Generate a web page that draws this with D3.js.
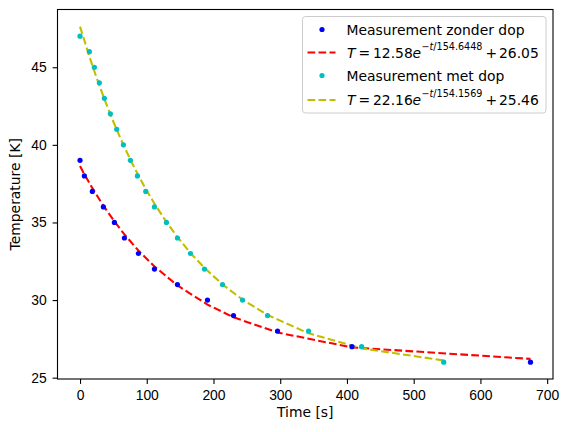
<!DOCTYPE html>
<html>
<head>
<meta charset="utf-8">
<script src="https://cdn.jsdelivr.net/npm/d3@7"></script>
<style>
  body { margin: 0; background: #fff; }
  svg { font-family: "DejaVu Sans", sans-serif; }
  .tick text { font-size: 13.9px; fill: #000; }
  .tick line { stroke: #000; stroke-width: 1.1; }
  .domain { display: none; }
</style>
</head>
<body>
<svg id="chart" width="569" height="432"></svg>
<script>
// Meetwaarden zonder dop
const timeZonder = [0, 6.5, 18.5, 35, 51.5, 66.5, 87.5, 111.5, 146, 191, 230, 296, 407.5, 675];
const tempZonder = [39, 38, 37, 36, 35, 34, 33, 32, 31, 30, 29, 28, 27, 26];
const fitZonder = [38.63, 38.11, 37.21, 36.08, 35.07, 34.23, 33.19, 32.17, 30.94, 29.71, 28.89, 27.91, 26.95, 26.21];

// Meetwaarden met dop
const timeMet = [0, 14, 21.5, 29, 36.5, 45.5, 55, 65, 75.5, 86, 98.5, 111.5, 129.5, 146, 165.5, 186.5, 213.5, 243.5, 281, 342.5, 422, 545];
const tempMet = [47, 46, 45, 44, 43, 42, 41, 40, 39, 38, 37, 36, 35, 34, 33, 32, 31, 30, 29, 28, 27, 26];
const fitMet = [47.62, 45.70, 44.74, 43.82, 42.95, 41.96, 40.97, 40.00, 39.04, 38.15, 37.16, 36.21, 35.03, 34.06, 33.03, 32.07, 31.01, 30.03, 29.04, 27.86, 26.89, 26.11];

const xTicks = [0, 100, 200, 300, 400, 500, 600, 700];
const yTicks = [25, 30, 35, 40, 45];

const PLOT = { left: 57.5, right: 553, top: 9.5, bottom: 379 };

const svg = d3.select("#chart");

const x = d3.scaleLinear().domain([-33.75, 708.75]).range([PLOT.left, PLOT.right]);
const y = d3.scaleLinear().domain([24.915, 48.72]).range([PLOT.bottom, PLOT.top]);

// Assen
svg.append("g")
    .attr("transform", `translate(0, ${PLOT.bottom})`)
    .call(d3.axisBottom(x).tickValues(xTicks).tickSize(4.9).tickPadding(6))
    .selectAll("text").attr("dy", "0.71em");

svg.append("g")
    .attr("transform", `translate(${PLOT.left}, 0)`)
    .call(d3.axisLeft(y).tickValues(yTicks).tickSize(4.9).tickPadding(5.8));

svg.append("text")
    .attr("x", (PLOT.left + PLOT.right) / 2)
    .attr("y", 417)
    .attr("text-anchor", "middle")
    .style("font-size", "13.9px")
    .text("Time [s]");

svg.append("text")
    .attr("transform", `translate(19.5, ${(PLOT.top + PLOT.bottom) / 2}) rotate(-90)`)
    .attr("text-anchor", "middle")
    .style("font-size", "13.9px")
    .text("Temperature [K]");

// Fit-lijnen
const line = (xs, ys) => d3.line()
    .x((d, i) => x(xs[i]))
    .y(d => y(d))(ys);

svg.append("path")
    .attr("d", line(timeZonder, fitZonder))
    .attr("fill", "none")
    .attr("stroke", "#ff0000")
    .attr("stroke-width", 2.08)
    .attr("stroke-dasharray", "7.7,3.3");

svg.append("path")
    .attr("d", line(timeMet, fitMet))
    .attr("fill", "none")
    .attr("stroke", "#bfbf00")
    .attr("stroke-width", 2.08)
    .attr("stroke-dasharray", "7.7,3.3");

// Meetpunten
svg.append("g").selectAll("circle")
    .data(tempZonder)
    .join("circle")
    .attr("cx", (d, i) => x(timeZonder[i]))
    .attr("cy", d => y(d))
    .attr("r", 2.6)
    .attr("fill", "#0000ff");

svg.append("g").selectAll("circle")
    .data(tempMet)
    .join("circle")
    .attr("cx", (d, i) => x(timeMet[i]))
    .attr("cy", d => y(d))
    .attr("r", 2.6)
    .attr("fill", "#00bfbf");

// Kader
svg.append("rect")
    .attr("x", PLOT.left)
    .attr("y", PLOT.top)
    .attr("width", PLOT.right - PLOT.left)
    .attr("height", PLOT.bottom - PLOT.top)
    .attr("fill", "none")
    .attr("stroke", "#000")
    .attr("stroke-width", 1.1);

// Legenda
const legend = svg.append("g");
legend.append("rect")
    .attr("x", 302.5).attr("y", 16.5)
    .attr("width", 243.5).attr("height", 96.5)
    .attr("rx", 3)
    .attr("fill", "rgba(255,255,255,0.8)")
    .attr("stroke", "#cccccc")
    .attr("stroke-width", 1);

const legendItems = [
    { type: "dot", color: "#0000ff", label: "Measurement zonder dop", y: 29.5 },
    { type: "line", color: "#ff0000", a: "12.58", tau: "154.6448", c: "26.05", y: 52.5 },
    { type: "dot", color: "#00bfbf", label: "Measurement met dop", y: 75.5 },
    { type: "line", color: "#bfbf00", a: "22.16", tau: "154.1569", c: "25.46", y: 100 }
];

legendItems.forEach(item => {
    if (item.type === "dot") {
        legend.append("circle")
            .attr("cx", 322).attr("cy", item.y)
            .attr("r", 2.6).attr("fill", item.color);
        legend.append("text")
            .attr("x", 346.5).attr("y", item.y)
            .attr("dy", "0.36em")
            .style("font-size", "13.9px")
            .text(item.label);
    } else {
        legend.append("line")
            .attr("x1", 307.5).attr("x2", 335.5)
            .attr("y1", item.y).attr("y2", item.y)
            .attr("stroke", item.color)
            .attr("stroke-width", 2.08)
            .attr("stroke-dasharray", "7.7,3.3");
        // mathtext-achtige opbouw: T = a e^{-t/tau} + c
        const base = item.y + 5;
        const g = legend.append("g").style("font-size", "13.9px");
        g.append("text").attr("x", 347).attr("y", base).style("font-style", "italic").text("T");
        g.append("text").attr("x", 358.5).attr("y", base).text("=");
        g.append("text").attr("x", 373).attr("y", base).text(item.a);
        g.append("text").attr("x", 412.5).attr("y", base).style("font-style", "italic").text("e");
        const sup = g.append("text")
            .attr("x", 421.5).attr("y", base - 8)
            .attr("textLength", 61)
            .attr("lengthAdjust", "spacingAndGlyphs")
            .style("font-size", "9.7px");
        sup.append("tspan").text("\u2212");
        sup.append("tspan").style("font-style", "italic").text("t");
        sup.append("tspan").text(`/${item.tau}`);
        g.append("text").attr("x", 485.5).attr("y", base).text("+");
        g.append("text").attr("x", 499).attr("y", base).text(item.c);
    }
});
</script>
</body>
</html>
